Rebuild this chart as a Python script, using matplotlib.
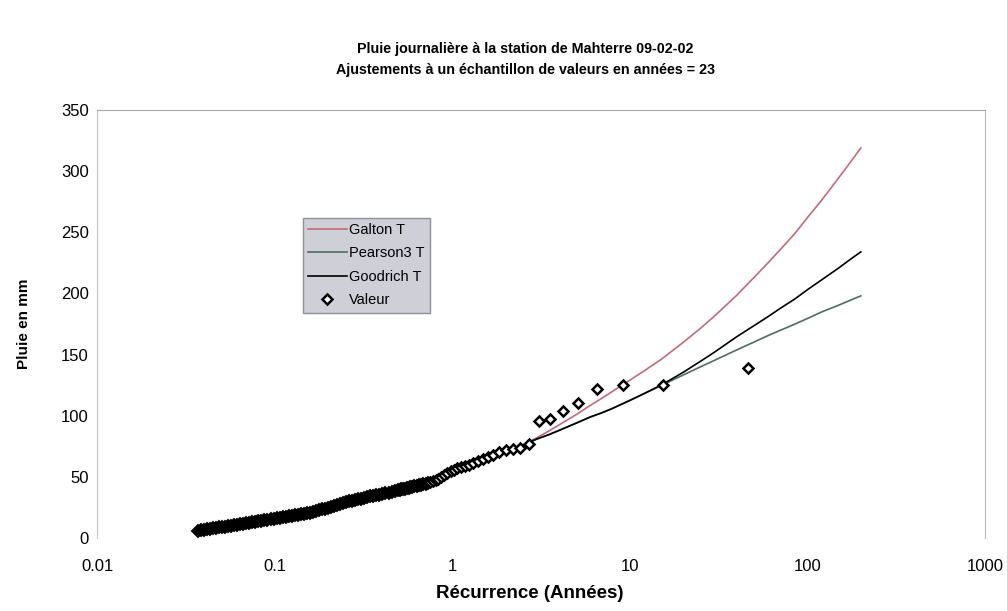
import matplotlib
matplotlib.use("Agg")
import matplotlib.pyplot as plt
import numpy as np
from matplotlib.ticker import FixedLocator, FixedFormatter, NullLocator

plt.rcParams['font.family'] = ['Liberation Sans', 'DejaVu Sans']

# observed values: recurrence (years) and daily rain (mm)
recurrence = [0.037, 0.0385, 0.040, 0.0416, 0.0433, 0.045, 0.0468, 0.0487, 0.0506, 0.0527,
              0.0548, 0.057, 0.0592, 0.0616, 0.0641, 0.0666, 0.0693, 0.0721, 0.075, 0.078,
              0.0811, 0.0843, 0.0877, 0.0912, 0.0949, 0.0987, 0.1026, 0.1067, 0.111, 0.1154,
              0.12, 0.1248, 0.1298, 0.135, 0.1404, 0.146, 0.1519, 0.158, 0.1643, 0.1708,
              0.1777, 0.1848, 0.1922, 0.1999, 0.2079, 0.2162, 0.2248, 0.2338, 0.2432, 0.2529,
              0.263, 0.2735, 0.2845, 0.2959, 0.3077, 0.32, 0.3328, 0.3461, 0.36, 0.3744,
              0.3894, 0.4049, 0.4211, 0.438, 0.4555, 0.4737, 0.4927,
              0.506, 0.517, 0.529, 0.541, 0.554, 0.568, 0.582, 0.597, 0.613, 0.630,
              0.648, 0.667, 0.687, 0.708, 0.730, 0.754, 0.780, 0.807, 0.836, 0.868,
              0.902, 0.939, 0.979,
              1.022, 1.070, 1.122, 1.179, 1.243, 1.314, 1.394, 1.484, 1.586, 1.704,
              1.840, 2.000, 2.190, 2.421, 2.706,
              3.067, 3.538, 4.182, 5.111, 6.571, 9.2, 15.33, 46.0]
pluie = [6.0, 6.3, 6.8, 7.2, 7.6, 8.0, 8.3, 8.6, 8.9, 9.3,
         9.6, 10.0, 10.3, 10.7, 11.1, 11.5, 11.9, 12.3, 12.7, 13.1,
         13.6, 14.0, 14.4, 14.8, 15.2, 15.6, 16.0, 16.4, 16.8, 17.2,
         17.6, 18.0, 18.5, 19.0, 19.4, 19.8, 20.2, 20.8, 21.4, 22.0,
         22.7, 23.4, 24.1, 24.8, 25.5, 26.2, 27.0, 27.8, 28.6, 29.4,
         30.0, 30.5, 31.0, 31.6, 32.2, 32.8, 33.4, 34.0, 34.5, 35.0,
         35.5, 36.0, 36.6, 37.2, 37.8, 38.4, 39.0,
         39.5, 39.8, 40.1, 40.4, 40.7, 41.0, 41.4, 41.8, 42.2, 42.6,
         43.0, 43.5, 44.0, 44.5, 45.0, 45.5, 46.5, 47.5, 48.5, 50.0,
         51.5, 53.0, 54.5,
         55.5, 57.0, 58.0, 59.0, 60.0, 61.5, 63.0, 65.0, 66.0, 67.5,
         70.0, 72.0, 72.5, 74.0, 77.0,
         96.0, 97.0, 104.0, 110.0, 122.0, 125.0, 125.0, 139.0]

# fitted curves
t_fit = [0.037, 0.05, 0.07, 0.1, 0.15, 0.2, 0.3, 0.5, 0.7, 1, 1.5, 2, 2.5, 3, 3.5, 4,
         5, 6, 7, 8, 10, 12, 15, 20, 25, 30, 40, 50, 60, 70, 85, 100, 120, 150, 175, 200]
galton = [6, 9, 12, 16, 20, 25, 32, 39.5, 45, 53, 63, 70, 76, 82, 87.5, 92.5,
          101, 108.5, 114.5, 120, 129, 136.5, 146, 160, 171.5, 181.5, 198.5, 213, 225, 235.5,
          249, 262, 276, 294.5, 307.5, 319]
pearson3 = [6, 9, 12, 16, 20, 25, 32, 39.5, 45, 53, 63, 70, 76, 81, 84.5, 88,
            94, 99, 102.5, 106, 112.5, 118, 124.6, 133.3, 140, 145.3, 153.8, 160.2, 165.5, 169.7,
            174.9, 179.5, 184.8, 190.4, 194.5, 198]
goodrich = [6, 9, 12, 16, 20, 25, 32, 39.5, 45, 53, 63, 70, 76, 81, 84.5, 88,
            94, 99, 102.5, 106, 112.5, 118, 125, 135.5, 144.5, 152, 164.6, 173.6, 181, 187.6,
            195.5, 203, 211, 220.8, 228, 234]

x_ticks = [0.01, 0.1, 1, 10, 100, 1000]
x_labels = ['0.01', '0.1', '1', '10', '100', '1000']
y_ticks = [0, 50, 100, 150, 200, 250, 300, 350]

fig = plt.figure(figsize=(10.07, 6.11), dpi=100)
ax = fig.add_axes([97 / 1007, 1 - 538 / 611, 888 / 1007, 428 / 611])

ax.plot(t_fit, galton, color='#c46a7a', lw=1.2, label='Galton T', zorder=2)
ax.plot(t_fit, pearson3, color='#4f6d62', lw=1.2, label='Pearson3 T', zorder=2)
ax.plot(t_fit, goodrich, color='black', lw=1.2, label='Goodrich T', zorder=2)

# dense low part: the overlapping markers merge into a solid black band
rec = np.array(recurrence)
pl = np.array(pluie)
dense = rec < 0.75
ax.plot(rec[dense], pl[dense], ls='none', marker='D', ms=6, mfc='black', mec='black',
        mew=1.4, zorder=3)
ax.plot(rec[~dense], pl[~dense], ls='none', marker='D', ms=5.5, mfc='white', mec='black',
        mew=1.8, label='Valeur', zorder=3)

ax.set_xscale('log')
ax.set_xlim(0.01, 1000)
ax.set_ylim(0, 350)
ax.xaxis.set_major_locator(FixedLocator(x_ticks))
ax.xaxis.set_major_formatter(FixedFormatter(x_labels))
ax.xaxis.set_minor_locator(NullLocator())
ax.set_yticks(y_ticks)
ax.tick_params(axis='both', length=0, labelsize=12)
ax.tick_params(axis='x', pad=15)
ax.tick_params(axis='y', pad=6)

ax.spines['bottom'].set_visible(False)
ax.spines['left'].set_color('#c8c8c8')
ax.spines['top'].set_color('#a8a8a8')
ax.spines['right'].set_color('#b8b8b8')

ax.set_xlabel('Récurrence (Années)', fontsize=13.5, fontweight='bold')
ax.xaxis.set_label_coords((530 - 97) / 888, -47 / 428)
ax.set_ylabel('Pluie en mm', fontsize=11, fontweight='bold')
ax.yaxis.set_label_coords(-66 / 888, 0.5)

fig.text(0.522, 1 - 49 / 611, 'Pluie journalière à la station de Mahterre 09-02-02',
         ha='center', va='center', fontsize=10.3, fontweight='bold')
fig.text(0.522, 1 - 70 / 611, 'Ajustements à un échantillon de valeurs en années = 23',
         ha='center', va='center', fontsize=10.3, fontweight='bold')

leg = ax.legend(loc='upper left', bbox_to_anchor=(0.232, 0.748), fontsize=10.5,
                fancybox=False, framealpha=1, handlelength=2.65, handletextpad=0.15,
                borderpad=0.35, labelspacing=0.65, borderaxespad=0)
leg.get_frame().set_facecolor('#cfcfd8')
leg.get_frame().set_edgecolor('#909098')

fig.savefig('out.png', dpi=100)
